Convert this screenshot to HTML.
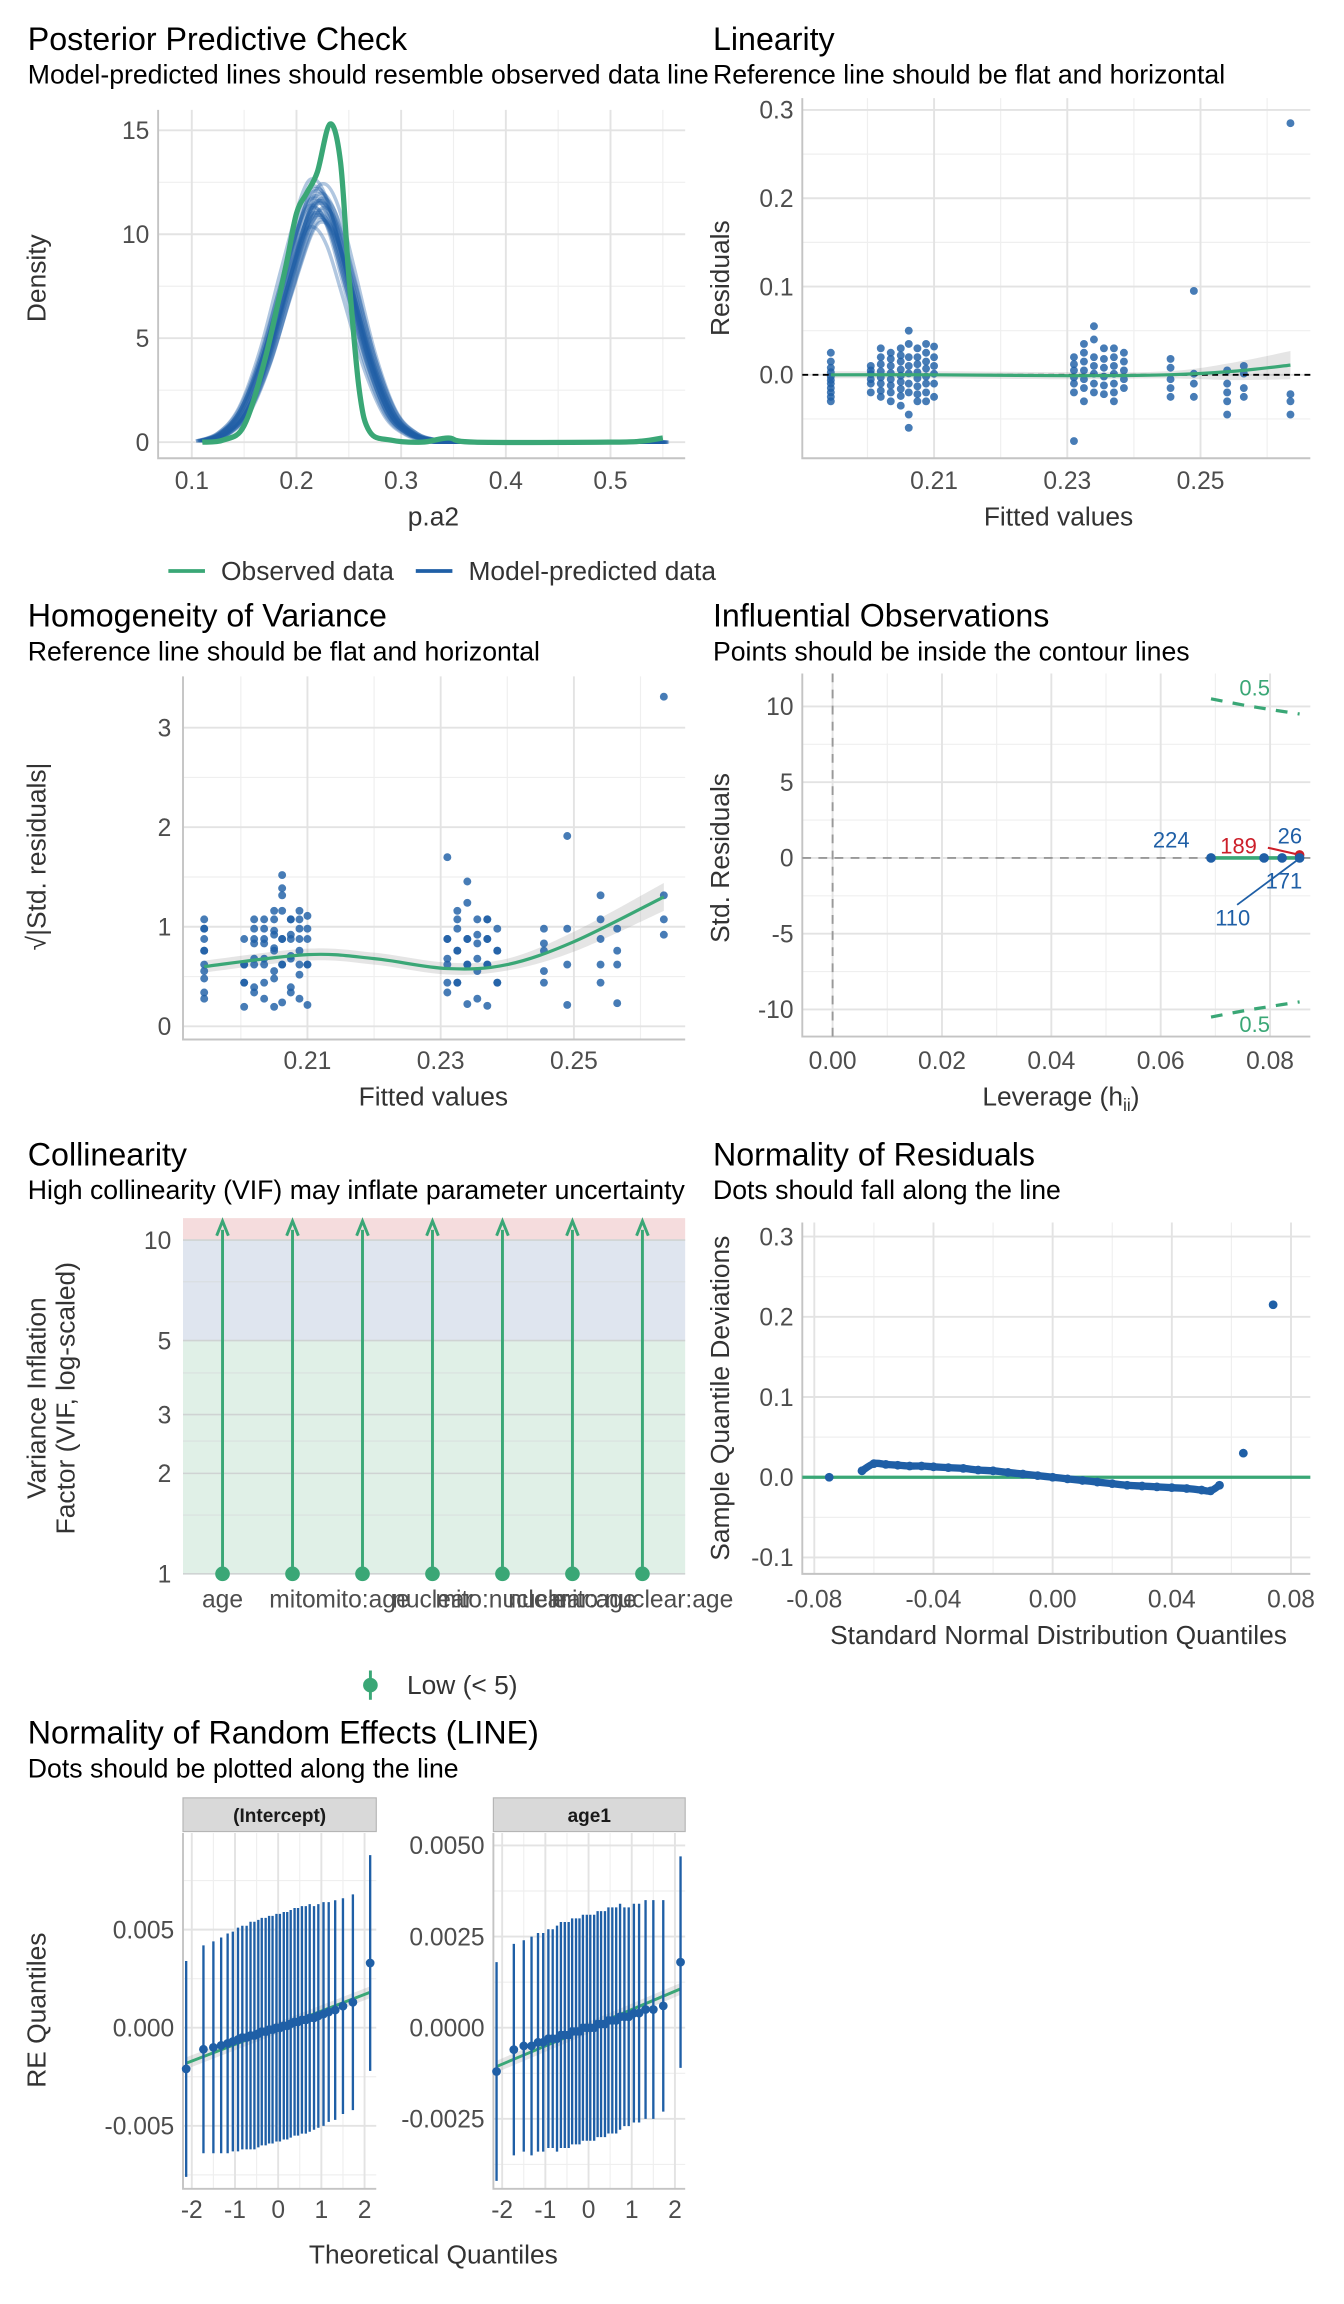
<!DOCTYPE html>
<html><head><meta charset="utf-8"><style>
html,body{margin:0;padding:0;background:#fff}
svg{display:block;font-family:"Liberation Sans",sans-serif}
</style></head><body>
<svg id="c" width="1344" height="2304" viewBox="0 0 918 1573.7" xmlns="http://www.w3.org/2000/svg"></svg>
<script>
// ---------- DATA ----------
const ppcObsX=[0.11,0.13,0.15,0.17,0.19,0.2,0.21,0.22,0.232,0.242,0.25,0.26,0.27,0.29,0.32,0.345,0.37,0.5,0.53,0.55];
const ppcObsY=[0,0.1,0.8,4,8.5,11,12,13,15.3,13.5,8,2.5,0.5,0.1,0,0.2,0,0,0.05,0.2];
const ppcPredX=[0.11,0.13,0.15,0.17,0.19,0.21,0.222,0.235,0.25,0.27,0.29,0.31,0.33,0.35,0.55];
const ppcPredY=[0.05,0.4,1.5,4,7.5,10.8,11.5,10.5,7.8,4,1.4,0.4,0.1,0,0];
const ppcPeakScale=[0.9,0.93,0.96,0.98,1.0,1.02,1.04,1.06,1.08,1.1,0.95,1.01,1.05,0.92,0.99,0.97,1.03,0.94,1.0,1.07,0.96,1.02,0.98,1.01,0.95];
const ppcShift=[-0.006,0.004,-0.003,0.006,0,-0.004,0.003,-0.001,0.005,-0.005,0.002,0.001,-0.002,0.004,-0.006,0.002,-0.002,0.001,0.003,-0.003,0,0.005,-0.004,0.002,-0.001];
const ppcXTicks=[0.1,0.2,0.3,0.4,0.5];
const ppcYTicks=[0,5,10,15];

const fittedCols=[0.1945,0.2005,0.202,0.2035,0.205,0.2062,0.2075,0.2088,0.21,0.231,0.2325,0.234,0.2355,0.237,0.2385,0.2455,0.249,0.254,0.2565,0.2635];
const residCols=[
[0.025,0.015,0.008,0.003,-0.002,-0.006,-0.01,-0.015,-0.02,-0.025,-0.03],
[0.01,0.005,0.001,-0.005,-0.01,-0.02],
[0.03,0.02,0.012,0.004,-0.003,-0.01,-0.018,-0.025],
[0.025,0.018,0.01,0.002,-0.005,-0.012,-0.02,-0.03],
[0.03,0.022,0.015,0.006,-0.001,-0.008,-0.016,-0.024,-0.035],
[0.05,0.035,0.02,0.01,0.0015,-0.01,-0.02,-0.045,-0.06],
[0.03,0.02,0.012,0.003,-0.004,-0.013,-0.022,-0.03],
[0.035,0.025,0.015,0.007,-0.002,-0.01,-0.02,-0.03],
[0.032,0.02,0.01,0.0012,-0.01,-0.025],
[0.02,0.012,0.005,-0.003,-0.01,-0.02,-0.075],
[0.035,0.025,0.015,0.005,-0.005,-0.015,-0.03],
[0.055,0.04,0.02,0.01,0.0013,-0.01,-0.02],
[0.03,0.018,0.008,-0.002,-0.012,-0.022],
[0.03,0.02,0.01,0.0011,-0.01,-0.02,-0.03],
[0.025,0.015,0.005,-0.005,-0.015],
[0.018,0.008,-0.005,-0.015,-0.025],
[0.095,0.0012,-0.01,-0.025],
[0.005,-0.01,-0.02,-0.03,-0.045],
[0.01,0.0014,-0.015,-0.025],
[0.285,-0.022,-0.03,-0.045]];
const residSD=0.026;
const linSmoothX=[0.1945,0.21,0.23,0.245,0.255,0.2635];
const linSmoothY=[0.0,0.0,-0.001,0.0,0.004,0.011];
const homSmoothX=[0.1945,0.21,0.22,0.231,0.24,0.25,0.2635];
const homSmoothY=[0.6,0.72,0.68,0.58,0.62,0.85,1.3];
const fittedTicks=[0.21,0.23,0.25];
const linYTicks=[0,0.1,0.2,0.3];
const homYTicks=[0,1,2,3];

const levX=[0.0692,0.0789,0.0822,0.0854,0.0854];
const levY=[0,0,0,0.2,0];
const levLab=["224","110","171","189","26"];
const contourX=[0.0692,0.075,0.08,0.0854];
const contourY=[10.5,10.1,9.8,9.5];
const levXTicks=[0,0.02,0.04,0.06,0.08];
const levYTicks=[-10,-5,0,5,10];

const vifTerms=["age","mito","mito:age","nuclear","mito:nuclear","nuclear:age","mito:nuclear:age"];
const vifVal=[1,1,1,1,1,1,1];
const vifTicks=[1,2,3,5,10];

const qqTheo=[-0.075,-0.064,-0.06,-0.056,-0.052,-0.048,-0.044,-0.04,-0.035,-0.03,-0.025,-0.02,-0.015,-0.01,-0.005,0,0.005,0.01,0.015,0.02,0.025,0.03,0.035,0.04,0.045,0.05,0.053,0.056,0.064,0.074];
const qqSample=[0,0.008,0.017,0.016,0.015,0.014,0.014,0.013,0.012,0.011,0.009,0.008,0.006,0.004,0.002,0,-0.002,-0.004,-0.006,-0.008,-0.01,-0.011,-0.012,-0.013,-0.014,-0.016,-0.017,-0.01,0.03,0.215];
const qqXTicks=[-0.08,-0.04,0,0.04,0.08];
const qqYTicks=[-0.1,0,0.1,0.2,0.3];

const reTheo=[-2.13,-1.73,-1.5,-1.32,-1.17,-1.05,-0.93,-0.83,-0.73,-0.64,-0.55,-0.46,-0.38,-0.29,-0.21,-0.13,-0.04,0.04,0.13,0.21,0.29,0.38,0.46,0.55,0.64,0.73,0.83,0.93,1.05,1.17,1.32,1.5,1.73,2.13];
const reInt=[-0.0021,-0.0011,-0.001,-0.0009,-0.0008,-0.0007,-0.0006,-0.0005,-0.0005,-0.0004,-0.0004,-0.0003,-0.0002,-0.0002,-0.0001,-0.0001,0,0,0.0001,0.0001,0.0002,0.0003,0.0003,0.0004,0.0004,0.0005,0.0005,0.0006,0.0007,0.0008,0.0009,0.0011,0.0013,0.0033];
const reIntHW=[0.0055,0.0053,0.0054,0.0055,0.0056,0.0056,0.0057,0.0057,0.0057,0.0058,0.0058,0.0058,0.0058,0.0058,0.0058,0.0058,0.0058,0.0058,0.0058,0.0058,0.0058,0.0058,0.0058,0.0058,0.0058,0.0058,0.0057,0.0057,0.0057,0.0056,0.0056,0.0055,0.0055,0.0055];
const reAge=[-0.0012,-0.0006,-0.0005,-0.0005,-0.0004,-0.0004,-0.0003,-0.0003,-0.0003,-0.0002,-0.0002,-0.0002,-0.0001,-0.0001,-0.0001,0,0,0,0,0.0001,0.0001,0.0001,0.0002,0.0002,0.0002,0.0003,0.0003,0.0003,0.0004,0.0004,0.0005,0.0005,0.0006,0.0018];
const reAgeHW=[0.003,0.0029,0.0029,0.003,0.003,0.003,0.003,0.003,0.0031,0.0031,0.0031,0.0031,0.0031,0.0031,0.0031,0.0031,0.0031,0.0031,0.0031,0.0031,0.0031,0.0031,0.0031,0.0031,0.0031,0.0031,0.003,0.003,0.003,0.003,0.003,0.003,0.0029,0.0029];
const reXTicks=[-2,-1,0,1,2];
const reIntTicks=[-0.005,0,0.005];
const reAgeTicks=[-0.0025,0,0.0025,0.005];

// ---------- HELPERS ----------
const NS="http://www.w3.org/2000/svg";
const root=document.getElementById('c');
const GREEN="#3aa776",BLUE="#1f5fa6",GRID="#e3e3e3",GRIDM="#efefef",TXT="#4d4d4d";
const FT=22,FS=18.2,FA=18,FK=16.8;
function mk(tag,attrs,parent){const e=document.createElementNS(NS,tag);for(const k in attrs)e.setAttribute(k,attrs[k]);(parent||root).appendChild(e);return e;}
function txt(s,x,y,size,attrs,parent){const a=Object.assign({x:x,y:y,'font-size':size,fill:'#000'},attrs||{});const t=mk('text',a,parent);t.textContent=s;return t;}
function smooth(pts){let d='M'+pts[0][0]+','+pts[0][1];for(let i=0;i<pts.length-1;i++){const p0=pts[Math.max(0,i-1)],p1=pts[i],p2=pts[i+1],p3=pts[Math.min(pts.length-1,i+2)];const c1x=p1[0]+(p2[0]-p0[0])/6,c1y=p1[1]+(p2[1]-p0[1])/6,c2x=p2[0]-(p3[0]-p1[0])/6,c2y=p2[1]-(p3[1]-p1[1])/6;d+=' C'+c1x+','+c1y+' '+c2x+','+c2y+' '+p2[0]+','+p2[1];}return d;}
function frame(g,L,R,T,B,xMaj,xMin,yMaj,yMin){
  xMin.forEach(v=>{if(v>L&&v<R)mk('line',{x1:v,x2:v,y1:T,y2:B,stroke:GRIDM,'stroke-width':0.8},g);});
  yMin.forEach(v=>{if(v>T&&v<B)mk('line',{x1:L,x2:R,y1:v,y2:v,stroke:GRIDM,'stroke-width':0.8},g);});
  xMaj.forEach(v=>mk('line',{x1:v,x2:v,y1:T,y2:B,stroke:GRID,'stroke-width':1.3},g));
  yMaj.forEach(v=>mk('line',{x1:L,x2:R,y1:v,y2:v,stroke:GRID,'stroke-width':1.3},g));
  mk('path',{d:`M${L},${T} V${B} H${R}`,fill:'none',stroke:'#c4c4c4','stroke-width':1.3},g);
}
function titles(g,x,y,t,s){const a=txt(t,x,y,FT,{},g);const b=txt(s,x,y+23,FS,{},g);}
function ylab(g,s,x,y){const t=txt(s,x,y,FA,{fill:'#333','text-anchor':'middle',transform:`rotate(-90 ${x} ${y})`},g);return t;}
function xlab(g,s,x,y){const t=txt(s,x,y,FA,{fill:'#333','text-anchor':'middle'},g);return t;}
function tick(g,s,x,y,anchor){const t=txt(s,x,y,FK,{fill:TXT,'text-anchor':anchor},g);}
function range(a,b,st){const r=[];for(let v=a;v<=b+1e-9;v+=st)r.push(+v.toFixed(6));return r;}

// ---------- PANEL 1: PPC ----------
(function(){
const g=mk('g',{});
const L=108,R=468,T=75,B=313;const X=v=>131+(v-0.1)*715,Y=v=>302-v*14.2;
frame(g,L,R,T,B,ppcXTicks.map(X),range(0.05,0.55,0.1).map(X),ppcYTicks.map(Y),range(2.5,12.5,5).map(Y));
titles(g,19,34,"Posterior Predictive Check","Model-predicted lines should resemble observed data line");
ppcXTicks.forEach(v=>tick(g,v.toFixed(1),X(v),334,'middle'));
ppcYTicks.forEach(v=>tick(g,String(v),L-6,Y(v)+6,'end'));
ylab(g,"Density",31,190);xlab(g,"p.a2",296,359);
ppcPeakScale.forEach((s,i)=>{const pts=ppcPredX.map((x,j)=>[X(x+ppcShift[i]),Y(ppcPredY[j]*s)]);const p=mk('path',{d:smooth(pts),fill:'none',stroke:BLUE,'stroke-width':2.4,'stroke-opacity':0.35},g);});
const o=mk('path',{d:smooth(ppcObsX.map((x,j)=>[X(x),Y(ppcObsY[j])])),fill:'none',stroke:GREEN,'stroke-width':3.6,'stroke-linejoin':'round'},g);
const l1=mk('line',{x1:115,x2:140,y1:390,y2:390,stroke:GREEN,'stroke-width':2.5},g);
const t1=txt("Observed data",151,396,FA,{fill:'#333'},g);
const l2=mk('line',{x1:284,x2:309,y1:390,y2:390,stroke:BLUE,'stroke-width':2.5},g);
const t2=txt("Model-predicted data",320,396,FA,{fill:'#333'},g);
})();

// ---------- PANEL 2: LINEARITY ----------
(function(){
const g=mk('g',{});
const L=548,R=895,T=67,B=313;const X=v=>638+(v-0.21)*4550,Y=v=>256-v*603;
frame(g,L,R,T,B,fittedTicks.map(X),[0.2,0.22,0.24,0.26].map(X),linYTicks.map(Y),[-0.05,0.05,0.15,0.25].map(Y));
titles(g,487,34,"Linearity","Reference line should be flat and horizontal");
fittedTicks.forEach(v=>tick(g,v.toFixed(2),X(v),334,'middle'));
linYTicks.forEach(v=>tick(g,v.toFixed(1),L-6,Y(v)+6,'end'));
ylab(g,"Residuals",498,190);xlab(g,"Fitted values",723,359);
const up=linSmoothX.map((x,i)=>[X(x),Y(linSmoothY[i]+0.004+(i>3?0.006*(i-3):0))]),lo=linSmoothX.map((x,i)=>[X(x),Y(linSmoothY[i]-0.004-(i>3?0.006*(i-3):0))]).reverse();
const sl=smooth(lo);
const rb=mk('path',{d:smooth(up)+' L'+lo[0][0]+','+lo[0][1]+sl.slice(sl.indexOf(' ')),fill:'#999','fill-opacity':0.25,stroke:'none'},g);
fittedCols.forEach((f,i)=>residCols[i].forEach(r=>{const c=mk('circle',{cx:X(f),cy:Y(r),r:2.7,fill:BLUE,'fill-opacity':0.82},g);}));
const d=mk('line',{x1:L,x2:R,y1:Y(0),y2:Y(0),stroke:'#000','stroke-width':1.3,'stroke-dasharray':'4,3'},g);
const s=mk('path',{d:smooth(linSmoothX.map((x,i)=>[X(x),Y(linSmoothY[i])])),fill:'none',stroke:GREEN,'stroke-width':2.2},g);
})();

// ---------- PANEL 3: HOMOGENEITY ----------
(function(){
const g=mk('g',{});
const L=125,R=468,T=462,B=710;const X=v=>210+(v-0.21)*4550,Y=v=>701-v*68;
frame(g,L,R,T,B,fittedTicks.map(X),[0.2,0.22,0.24,0.26].map(X),homYTicks.map(Y),[0.5,1.5,2.5].map(Y));
titles(g,19,428,"Homogeneity of Variance","Reference line should be flat and horizontal");
fittedTicks.forEach(v=>tick(g,v.toFixed(2),X(v),730,'middle'));
homYTicks.forEach(v=>tick(g,String(v),L-8,Y(v)+6,'end'));
ylab(g,"√|Std. residuals|",31,585);
xlab(g,"Fitted values",296,755);
const up=homSmoothX.map((x,i)=>[X(x),Y(homSmoothY[i]+0.06+(i>4?0.04*(i-4):0))]),lo=homSmoothX.map((x,i)=>[X(x),Y(homSmoothY[i]-0.06-(i>4?0.04*(i-4):0))]).reverse();
const sl=smooth(lo);
const rb=mk('path',{d:smooth(up)+' L'+lo[0][0]+','+lo[0][1]+sl.slice(sl.indexOf(' ')),fill:'#999','fill-opacity':0.25},g);
fittedCols.forEach((f,i)=>residCols[i].forEach(r=>{const c=mk('circle',{cx:X(f),cy:Y(Math.sqrt(Math.abs(r)/residSD)),r:2.7,fill:BLUE,'fill-opacity':0.82},g);}));
const s=mk('path',{d:smooth(homSmoothX.map((x,i)=>[X(x),Y(homSmoothY[i])])),fill:'none',stroke:GREEN,'stroke-width':2.2},g);
})();

// ---------- PANEL 4: INFLUENTIAL ----------
(function(){
const g=mk('g',{});
const L=548,R=895,T=460,B=708;const X=v=>568.7+v*3735,Y=v=>586-v*10.35;
frame(g,L,R,T,B,levXTicks.map(X),[0.01,0.03,0.05,0.07].map(X),levYTicks.map(Y),[-7.5,-2.5,2.5,7.5].map(Y));
titles(g,487,428,"Influential Observations","Points should be inside the contour lines");
levXTicks.forEach(v=>tick(g,v.toFixed(2),X(v),730,'middle'));
levYTicks.forEach(v=>tick(g,String(v),L-6,Y(v)+6,'end'));
ylab(g,"Std. Residuals",498,586);
const xt=txt("Leverage (h",671,755,FA,{fill:'#333'},g);
const ts=mk('tspan',{'font-size':12,dy:4},xt);ts.textContent="ii";const ts2=mk('tspan',{dy:-4},xt);ts2.textContent=")";
const zl=mk('line',{x1:X(0),x2:X(0),y1:T,y2:B,stroke:'#999','stroke-width':1.3,'stroke-dasharray':'6,5'},g);
const zr=mk('line',{x1:L,x2:R,y1:Y(0),y2:Y(0),stroke:'#999','stroke-width':1.3,'stroke-dasharray':'6,5'},g);
[1,-1].forEach(sg=>{const p=mk('path',{d:smooth(contourX.map((x,i)=>[X(x),Y(sg*contourY[i])])),fill:'none',stroke:GREEN,'stroke-width':2.2,'stroke-dasharray':'8,7'},g);});
const c1=txt("0.5",857,475,15,{fill:GREEN,'text-anchor':'middle'},g);
const c2=txt("0.5",857,705,15,{fill:GREEN,'text-anchor':'middle'},g);
const gl=mk('line',{x1:X(levX[0]),x2:X(levX[3]),y1:Y(0),y2:Y(0),stroke:GREEN,'stroke-width':2.5},g);
const labPos=[[800,579],[842,632],[877,607],[846,583],[881,576]];
mk('line',{x1:845,x2:X(levX[1])+22,y1:618,y2:Y(0)+2,stroke:BLUE,'stroke-width':1.2},g);
mk('line',{x1:866,x2:X(levX[3]),y1:579,y2:Y(levY[3]),stroke:'#cc1f2a','stroke-width':1.4},g);
levX.forEach((x,i)=>{const red=levLab[i]==="189";const c=mk('circle',{cx:X(x),cy:Y(levY[i]),r:3.3,fill:red?'#cc1f2a':BLUE},g);
const t=txt(levLab[i],labPos[i][0],labPos[i][1],15,{fill:red?'#cc1f2a':BLUE,'text-anchor':'middle'},g);});
})();

// ---------- PANEL 5: COLLINEARITY ----------
(function(){
const g=mk('g',{});
const L=125,R=468,T=832,B=1075;const Y=v=>1075-Math.log10(v)*228;const X=i=>152+i*47.8;
const b1=mk('rect',{x:L,y:T,width:R-L,height:Y(10)-T,fill:'#f5dcdd'},g);
const b2=mk('rect',{x:L,y:Y(10),width:R-L,height:Y(5)-Y(10),fill:'#dfe5ef'},g);
const b3=mk('rect',{x:L,y:Y(5),width:R-L,height:B-Y(5),fill:'#e0f0e7'},g);
vifTicks.forEach(v=>mk('line',{x1:L,x2:R,y1:Y(v),y2:Y(v),stroke:'#cfd3d3','stroke-width':1.1},g));
[1.5,2.5,4,7.5].forEach(v=>mk('line',{x1:L,x2:R,y1:Y(v),y2:Y(v),stroke:'#d8dcdc','stroke-width':0.6},g));
titles(g,19,796,"Collinearity","High collinearity (VIF) may inflate parameter uncertainty");
vifTicks.forEach(v=>tick(g,String(v),L-8,Y(v)+6,'end'));
ylab(g,"Variance Inflation",31,955);ylab(g,"Factor (VIF, log-scaled)",51,955);
vifTerms.forEach((t,i)=>{const x=X(i);
const ln=mk('line',{x1:x,x2:x,y1:Y(vifVal[i]),y2:T+8,stroke:GREEN,'stroke-width':2},g);
const ar=mk('path',{d:`M${x-4},${T+12} L${x},${T+2} L${x+4},${T+12}`,fill:'none',stroke:GREEN,'stroke-width':2},g);
const c=mk('circle',{cx:x,cy:Y(vifVal[i]),r:5,fill:GREEN},g);
tick(g,t,x,1098,'middle');});
const lk=mk('line',{x1:253,x2:253,y1:1141,y2:1161,stroke:GREEN,'stroke-width':2},g);
mk('circle',{cx:253,cy:1151,r:5,fill:GREEN},g);
const lt=txt("Low (< 5)",278,1157,FA,{fill:'#333'},g);
})();

// ---------- PANEL 6: NORMALITY OF RESIDUALS ----------
(function(){
const g=mk('g',{});
const L=548,R=895,T=835,B=1075;const X=v=>719+v*2035,Y=v=>1009-v*548;
frame(g,L,R,T,B,qqXTicks.map(X),[-0.06,-0.02,0.02,0.06].map(X),qqYTicks.map(Y),[-0.05,0.05,0.15,0.25].map(Y));
titles(g,487,796,"Normality of Residuals","Dots should fall along the line");
qqXTicks.forEach(v=>tick(g,v===0?"0.00":v.toFixed(2),X(v),1098,'middle'));
qqYTicks.forEach(v=>tick(g,v.toFixed(1),L-6,Y(v)+6,'end'));
ylab(g,"Sample Quantile Deviations",498,955);xlab(g,"Standard Normal Distribution Quantiles",723,1123);
const gl=mk('line',{x1:L,x2:R,y1:Y(0),y2:Y(0),stroke:GREEN,'stroke-width':2.2},g);
const pth=mk('path',{d:smooth(qqTheo.slice(1,28).map((x,i)=>[X(x),Y(qqSample[i+1])])),fill:'none',stroke:BLUE,'stroke-width':5,'stroke-linecap':'round'},g);
qqTheo.forEach((x,i)=>{const c=mk('circle',{cx:X(x),cy:Y(qqSample[i]),r:3,fill:BLUE},g);});
})();

// ---------- PANEL 7: RANDOM EFFECTS ----------
(function(){
const g=mk('g',{});
titles(g,19,1191,"Normality of Random Effects (LINE)","Dots should be plotted along the line");
ylab(g,"RE Quantiles",31,1373);xlab(g,"Theoretical Quantiles",296,1546);
const facets=[{L:125,R:257,cx:190,k:13400,vals:reInt,hw:reIntHW,ticks:reIntTicks,minor:[-0.0075,-0.0025,0.0025,0.0075],name:"(Intercept)",fmt:v=>v.toFixed(3),slope:0.00085},
{L:337,R:468,cx:402,k:24900,vals:reAge,hw:reAgeHW,ticks:reAgeTicks,minor:[-0.00375,-0.00125,0.00125,0.00375],name:"age1",fmt:v=>v.toFixed(4),slope:0.0005}];
facets.forEach(f=>{const T=1252,B=1495;const X=v=>f.cx+v*29.5,Y=v=>1385-v*f.k;
const fg=mk('g',{},g);
frame(fg,f.L,f.R,T,B,reXTicks.map(X),[-1.5,-0.5,0.5,1.5].map(X),f.ticks.map(Y),f.minor.map(Y));
const st=mk('rect',{x:f.L,y:1228,width:f.R-f.L,height:23,fill:'#d9d9d9',stroke:'#b5b5b5','stroke-width':0.8},fg);
const stt=txt(f.name,(f.L+f.R)/2,1244.5,13,{'font-weight':'bold',fill:'#1a1a1a','text-anchor':'middle'},fg);
reXTicks.forEach(v=>tick(fg,String(v),X(v),1515,'middle'));
f.ticks.forEach(v=>tick(fg,f.fmt(v),f.L-6,Y(v)+6,'end'));
const x0=X(-2.13),x1=X(2.13);
const rb=mk('path',{d:`M${x0},${Y(-2.13*f.slope)-4} L${x1},${Y(2.13*f.slope)-4} L${x1},${Y(2.13*f.slope)+4} L${x0},${Y(-2.13*f.slope)+4}Z`,fill:'#999','fill-opacity':0.25},fg);
const ln=mk('line',{x1:x0,x2:x1,y1:Y(-2.13*f.slope),y2:Y(2.13*f.slope),stroke:GREEN,'stroke-width':2},fg);
reTheo.forEach((q,i)=>{const e=mk('line',{x1:X(q),x2:X(q),y1:Y(f.vals[i]-f.hw[i]),y2:Y(f.vals[i]+f.hw[i]),stroke:BLUE,'stroke-width':1.6},fg);
const c=mk('circle',{cx:X(q),cy:Y(f.vals[i]),r:3,fill:BLUE},fg);});
});
})();
</script>
</body></html>
